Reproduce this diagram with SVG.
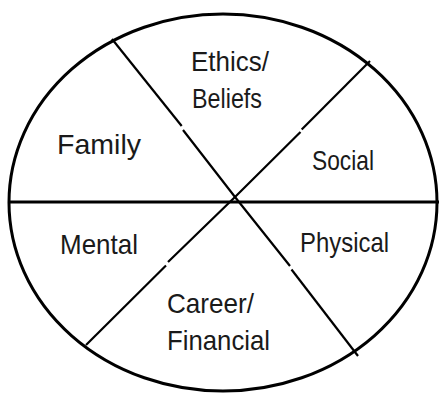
<svg xmlns="http://www.w3.org/2000/svg" width="441" height="397" viewBox="0 0 441 397">
  <style>
    .rim { fill: none; stroke: #000; stroke-width: 3; }
    .axis { fill: none; stroke: #000; stroke-width: 3; }
    .spoke { fill: none; stroke: #000; stroke-width: 2.2; stroke-linecap: butt; }
    .label { font-family: "Liberation Sans", Arial, sans-serif; font-size: 28px; fill: #1a1a1a; }
  </style>
  <rect width="441" height="397" fill="#fff"/>

  <!-- outer wheel -->
  <g id="wheel">
    <ellipse class="rim" cx="223" cy="202.5" rx="214" ry="188.5"/>
  </g>

  <!-- dividing lines -->
  <g id="connectors">
    <line class="axis" x1="8" y1="202" x2="439" y2="202"/>
    <polyline class="spoke" points="112,39 181.7,126"/>
    <polyline class="spoke" points="183,130 235,197 290,266"/>
    <polyline class="spoke" points="291.5,269.5 358,356"/>
    <polyline class="spoke" points="370,61 301.7,129.5"/>
    <polyline class="spoke" points="300.5,132 235,197 168,262"/>
    <polyline class="spoke" points="166,265.5 86,345"/>
  </g>

  <g id="ethics">
    <text class="label" x="191" y="71" textLength="78" lengthAdjust="spacingAndGlyphs">Ethics/</text>
    <text class="label" x="192" y="108" textLength="70" lengthAdjust="spacingAndGlyphs">Beliefs</text>
  </g>
  <g id="family">
    <text class="label" x="57" y="154" textLength="84" lengthAdjust="spacingAndGlyphs">Family</text>
  </g>
  <g id="social">
    <text class="label" x="312" y="170" textLength="62" lengthAdjust="spacingAndGlyphs">Social</text>
  </g>
  <g id="mental">
    <text class="label" x="60" y="254" textLength="78" lengthAdjust="spacingAndGlyphs">Mental</text>
  </g>
  <g id="physical">
    <text class="label" x="300" y="252" textLength="89" lengthAdjust="spacingAndGlyphs">Physical</text>
  </g>
  <g id="career">
    <text class="label" x="167" y="313" textLength="87" lengthAdjust="spacingAndGlyphs">Career/</text>
    <text class="label" x="167" y="350" textLength="103" lengthAdjust="spacingAndGlyphs">Financial</text>
  </g>
</svg>
